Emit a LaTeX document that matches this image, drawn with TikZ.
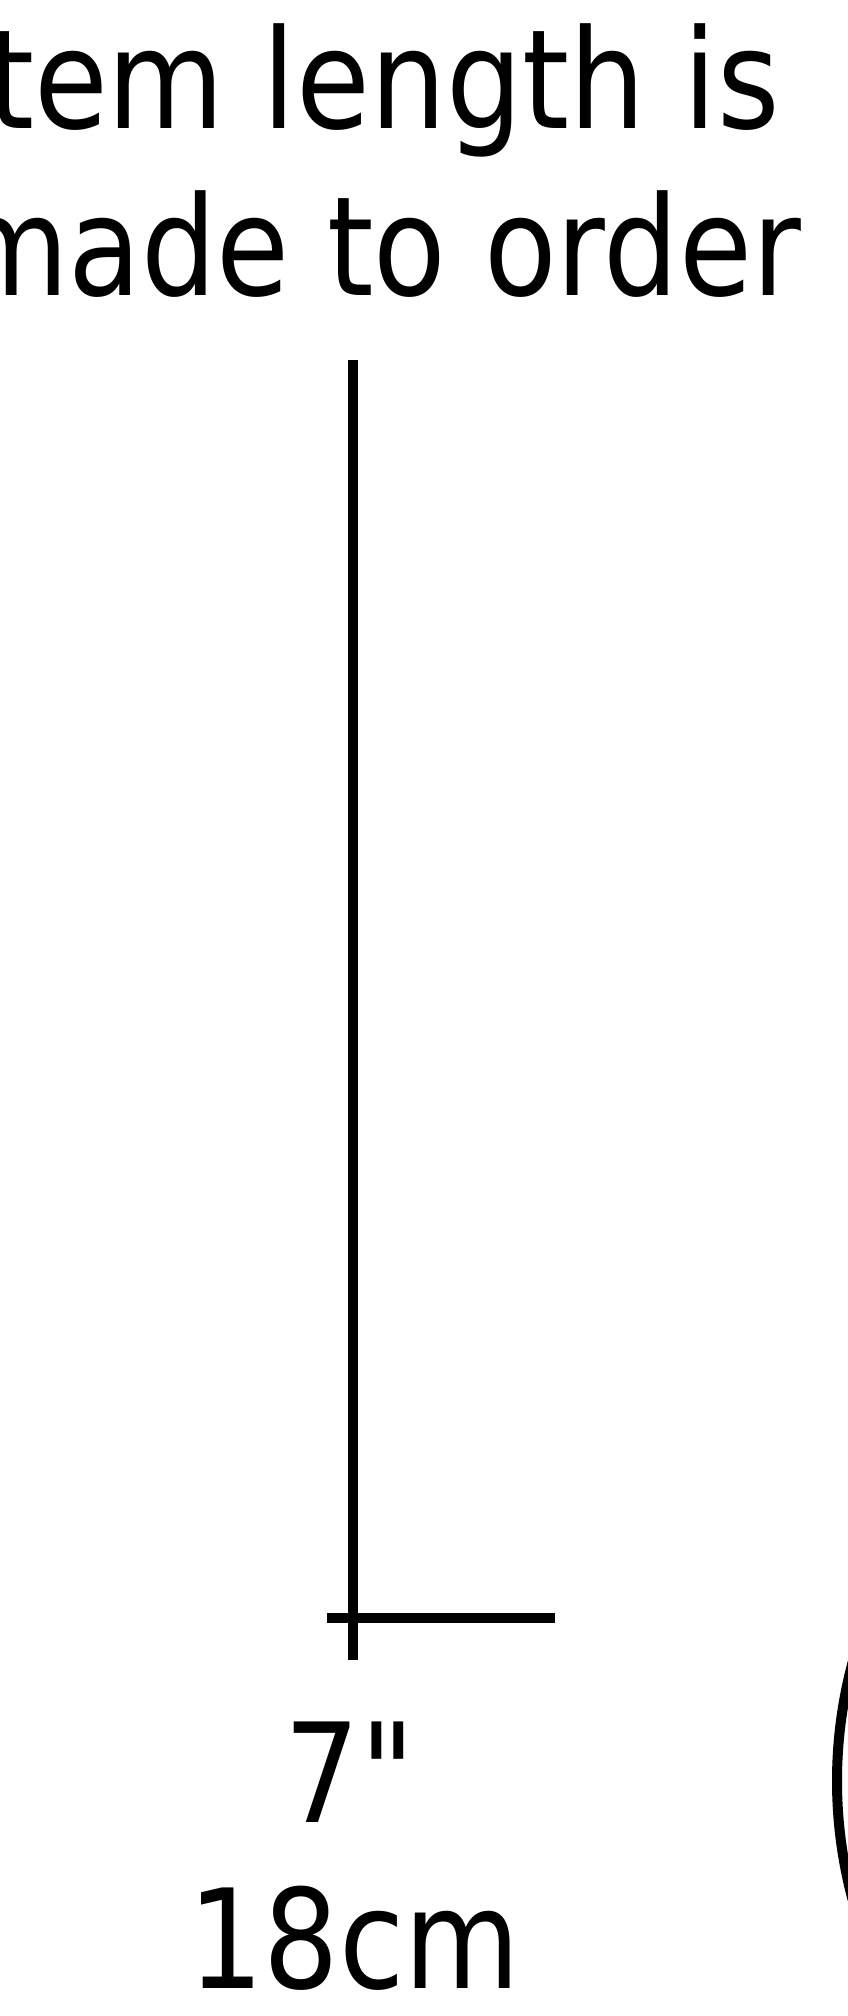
\documentclass[tikz,border=0pt]{standalone}
\usepackage{fontspec}
\setmainfont{DejaVu Sans}
\newfontfamily\labfont{DejaVu Sans}
\begin{document}
\begin{tikzpicture}[x=1pt,y=-1pt,
  txt/.style={inner sep=0pt, font=\labfont\fontsize{138}{160}\selectfont},
  stroke/.style={line width=9.5pt, black, line cap=butt}]
\useasboundingbox (0,0) rectangle (848,2016);
\fill[white] (0,0) rectangle (848,2016);
\clip (0,0) rectangle (848,2016);
% heading (cut off at the left edge)
\node[txt, anchor=base east] (l1) at (780,128) {\scalebox{0.87}[1]{Stem length is}};
\node[txt, anchor=base east] (l2) at (801,295) {\scalebox{0.86}[1]{made to order}};
% dimension lines
\coordinate (vtop) at (353,360);
\coordinate (vbot) at (353,1660);
\coordinate (hl) at (327,1618);
\coordinate (hr) at (555,1618);
\draw[stroke] (vtop) -- (vbot);
\draw[stroke] (hl) -- (hr);
% labels
\node[txt, anchor=base] (in) at (350,1822) {\scalebox{0.86}[1]{7\char34}};
\node[txt, anchor=base] (cm) at (354,1988) {\scalebox{0.86}[1]{18cm}};
% arc at right edge
\coordinate (c) at (1292,1781);
\draw[line width=10pt] (c) circle[radius=455pt];
\end{tikzpicture}
\end{document}
